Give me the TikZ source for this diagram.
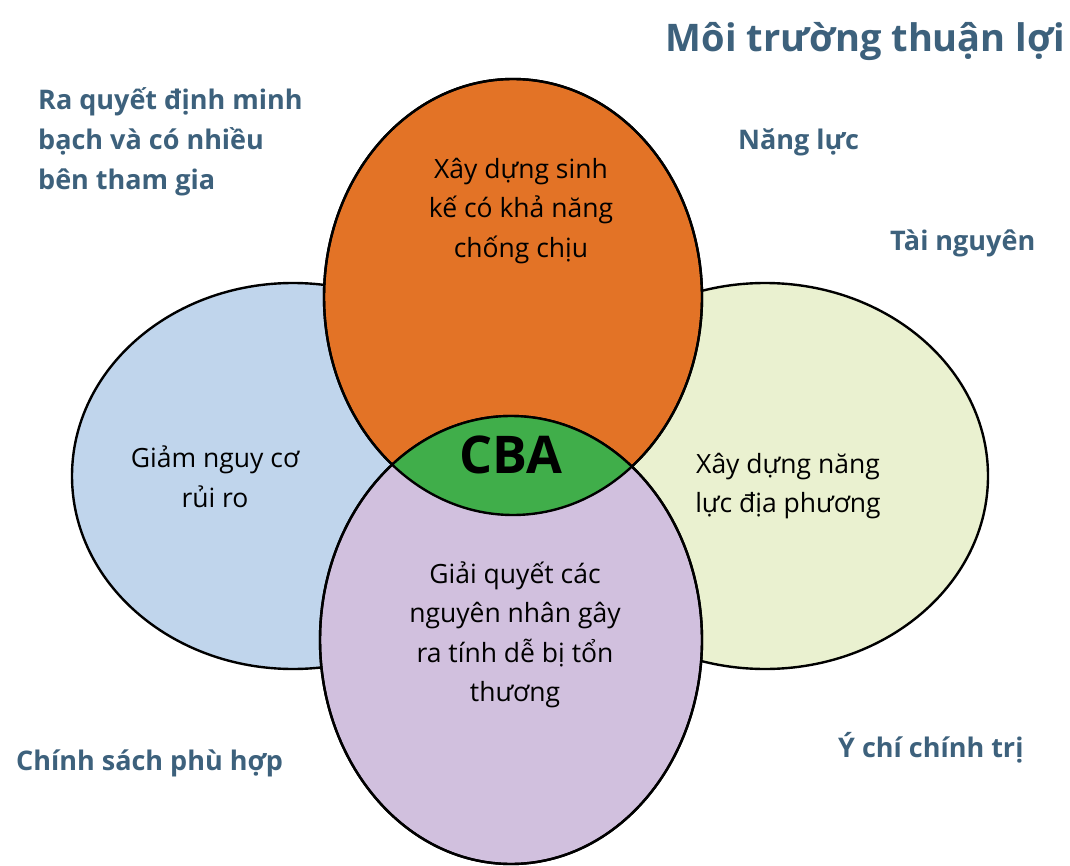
\documentclass[tikz,border=0pt]{standalone}
\usepackage{fontspec}
\setmainfont{Open Sans}
\definecolor{slate}{HTML}{3D617C}
\definecolor{riskblue}{HTML}{C0D5EC}
\definecolor{capgreen}{HTML}{EAF1D0}
\definecolor{liveorange}{HTML}{E37326}
\definecolor{causepurple}{HTML}{D1C0DE}
\definecolor{cbagreen}{HTML}{40AE4A}
\begin{document}
\begin{tikzpicture}[x=1pt,y=-1pt,
    ring/.style={draw=black,line width=2.4pt},
    factor/.style={text=slate,font=\bfseries\fontsize{27}{40}\selectfont,align=left,anchor=base west,inner sep=0pt},
    circtext/.style={font=\fontsize{26.5}{39.5}\selectfont,align=center,inner sep=0pt}]
  \useasboundingbox (0,0) rectangle (1070,866);
  % the four circles
  \filldraw[ring,fill=riskblue] (293,476) ellipse [x radius=221pt,y radius=193pt];
  \filldraw[ring,fill=capgreen] (765,476) ellipse [x radius=223pt,y radius=193pt];
  \filldraw[ring,fill=liveorange] (513,297) ellipse [x radius=189pt,y radius=218pt];
  \filldraw[ring,fill=causepurple] (511,640) ellipse [x radius=191pt,y radius=224pt];
  \begin{scope}
    \clip (513,297) ellipse [x radius=189pt,y radius=218pt];
    \fill[cbagreen] (511,640) ellipse [x radius=191pt,y radius=224pt];
  \end{scope}
  \draw[ring] (513,297) ellipse [x radius=189pt,y radius=218pt];
  \draw[ring] (511,640) ellipse [x radius=191pt,y radius=224pt];
  % texts in the circles
  \node[circtext] (live) at (521,211) {Xây dựng sinh\\kế có khả năng\\chống chịu};
  \node[circtext] (risk) at (215,477) {Giảm nguy cơ\\rủi ro};
  \node[circtext] (local) at (788,486) {Xây dựng năng\\lực địa phương};
  \node[circtext] (cause) at (515,635) {Giải quyết các\\nguyên nhân gây\\ra tính dễ bị tổn\\thương};
  \node[font=\bfseries\fontsize{52}{60}\selectfont,inner sep=0pt] (cba) at (511,455) {CBA};
  % enabling factors
  \node[factor,font=\bfseries\fontsize{38}{40}\selectfont,anchor=base east] (title) at (1065,52) {Môi trường thuận lợi};
  \node[factor] (decide) at (38,190) {Ra quyết định minh\\bạch và có nhiều\\bên tham gia};
  \node[factor] (capacity) at (738,150) {Năng lực};
  \node[factor] (resource) at (890,251) {Tài nguyên};
  \node[factor] (policy) at (16,770) {Chính sách phù hợp};
  \node[factor] (will) at (838,757) {Ý chí chính trị};
\end{tikzpicture}
\end{document}
